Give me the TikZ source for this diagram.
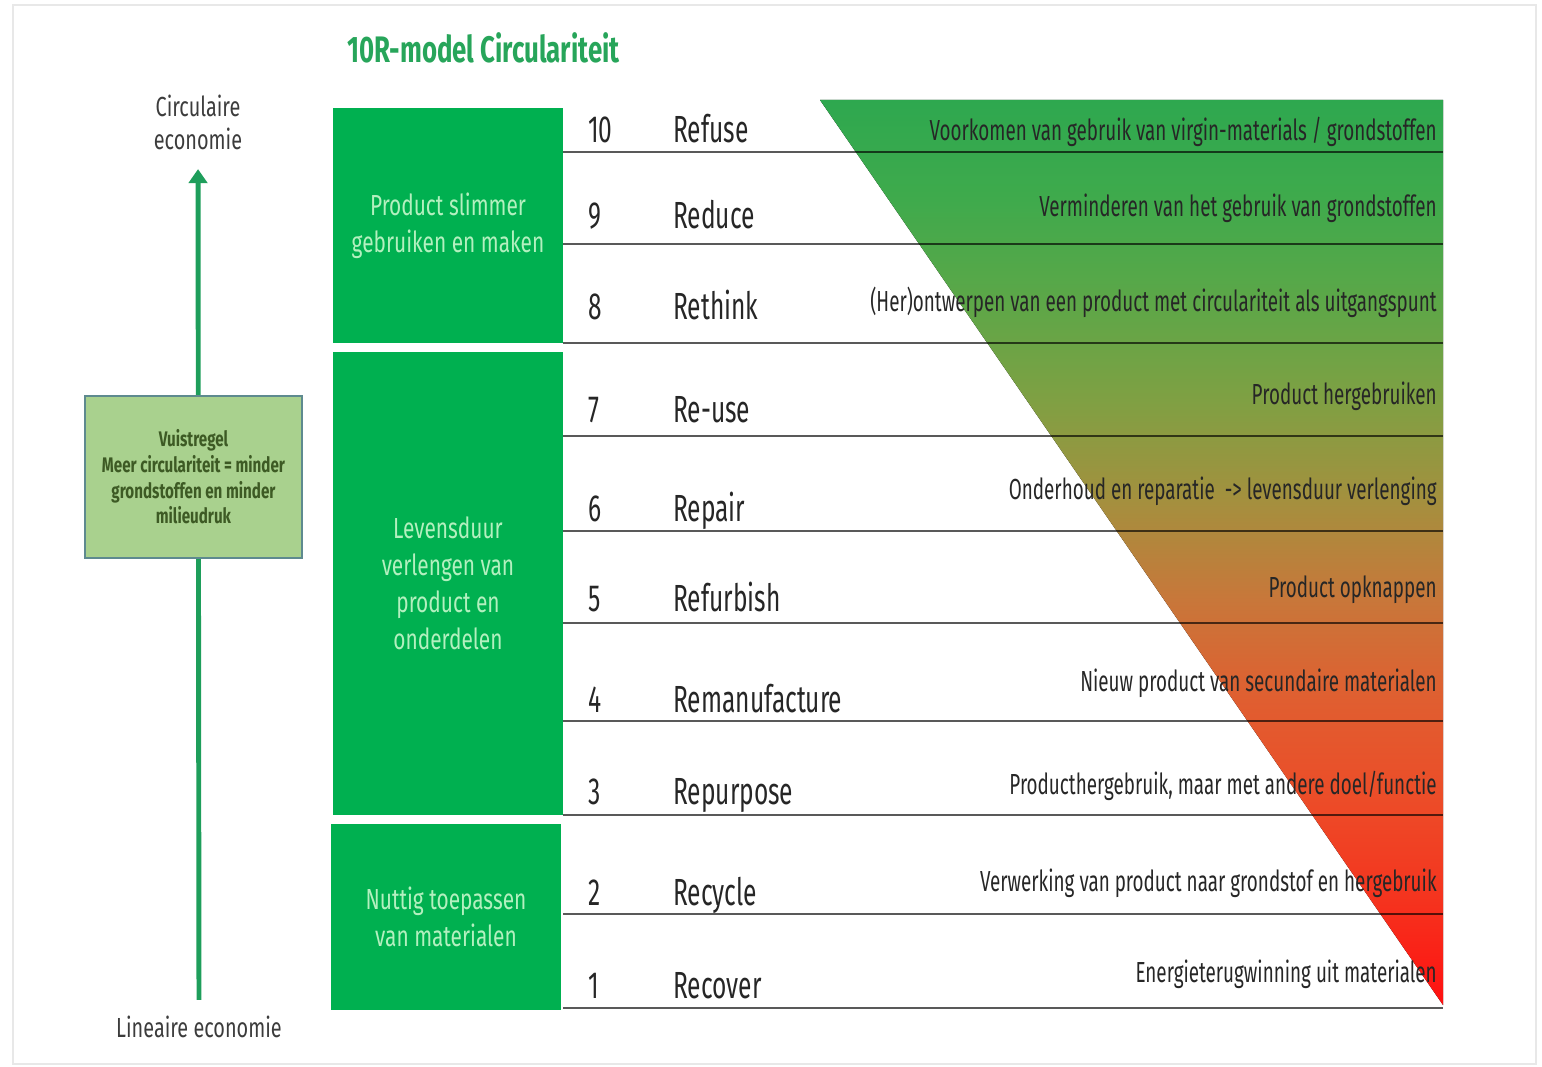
\documentclass[tikz,border=0pt]{standalone}
\usepackage{fontspec}
\setmainfont[FakeStretch=0.65]{Fira Sans}
\newfontfamily\grpfont[FakeStretch=0.72]{Fira Sans}
\newfontfamily\ttlfont[FakeStretch=0.70]{Fira Sans}
\usepackage{xcolor}
\usepackage{tikz}
\usetikzlibrary{arrows.meta}
\definecolor{grp}{HTML}{00B050}
\definecolor{grptext}{HTML}{B3F0BF}
\definecolor{ttl}{HTML}{27A55A}
\definecolor{axis}{HTML}{1E9E5B}
\definecolor{rulefill}{HTML}{A9D18E}
\definecolor{ruleedge}{HTML}{5E8A8F}
\definecolor{ruletext}{HTML}{3D5A24}
\definecolor{ink}{HTML}{262626}
\definecolor{frame}{HTML}{E8E8E8}
% triangle colours, top (t9) to bottom (t0)
\definecolor{t9}{HTML}{2EA84F}
\definecolor{t8}{HTML}{3FAA4C}
\definecolor{t7}{HTML}{5CA748}
\definecolor{t6}{HTML}{7FA043}
\definecolor{t5}{HTML}{A4903E}
\definecolor{t4}{HTML}{C8773A}
\definecolor{t3}{HTML}{E05E30}
\definecolor{t2}{HTML}{EC4C28}
\definecolor{t1}{HTML}{F5331E}
\definecolor{t0}{HTML}{FF1010}
\pgfdeclareverticalshading{tenr}{100bp}{color(0bp)=(t0); color(25bp)=(t0);
  color(30.80bp)=(t1); color(36.33bp)=(t2); color(41.85bp)=(t3);
  color(47.38bp)=(t4); color(52.90bp)=(t5); color(58.43bp)=(t6);
  color(63.95bp)=(t7); color(69.48bp)=(t8); color(75bp)=(t9); color(100bp)=(t9)}
\tikzset{
  grpbox/.style={fill=grp, inner sep=0pt, align=center, text=grptext,
    font=\grpfont\fontsize{16.5}{21}\selectfont},
  rulebox/.style={fill=rulefill, draw=ruleedge, line width=1.2pt, align=center,
    text=ruletext, minimum width=4.34cm, minimum height=3.24cm,
    font=\grpfont\bfseries\fontsize{12}{14.6}\selectfont},
  rowline/.style={draw=black, opacity=0.65, line width=1.2pt},
  uparrow/.style={draw=axis, line width=2.8pt, -{Triangle[width=10.5pt,length=8pt]}},
  num/.style={anchor=base west, inner sep=0pt, text=ink, font=\fontsize{21.5}{24}\selectfont},
  rname/.style={anchor=base west, inner sep=0pt, text=ink, font=\fontsize{21.5}{24}\selectfont},
  rdesc/.style={anchor=base east, inner sep=0pt, text=ink, font=\fontsize{16.5}{18}\selectfont},
  side/.style={align=center, inner sep=0pt, text=ink!90, font=\grpfont\fontsize{15.7}{18.8}\selectfont},
}

\begin{document}
\begin{tikzpicture}[x=0.02cm, y=-0.02cm]
  \useasboundingbox (0,0) rectangle (1542,1067);
  \draw[frame, line width=0.6pt] (13,5) rectangle (1536,1064);

  \node[anchor=base west, inner sep=0pt, text=ttl,
    font=\ttlfont\bfseries\fontsize{21}{24}\selectfont] (title) at (347,63) {10R-model Circulariteit};

  % left axis
  \node[side] (circ) at (198,122) {Circulaire\\economie};
  \node[side] (lin) at (199,1027) {Lineaire economie};
  \draw[uparrow, shorten <=9pt, shorten >=11pt] (lin.north) -- (circ.south);
  \node[rulebox] (rule) at (193.5,477)
    {Vuistregel\\Meer circulariteit = minder\\grondstoffen en minder\\milieudruk};

  % groups
  \node[grpbox, minimum width=4.6cm, minimum height=4.7cm] (grp1) at (448,225.5)
    {Product slimmer\\gebruiken en maken};
  \node[grpbox, minimum width=4.6cm, minimum height=9.26cm] (grp2) at (448,583.5)
    {Levensduur\\verlengen van\\product en\\onderdelen};
  \node[grpbox, minimum width=4.6cm, minimum height=3.72cm] (grp3) at (446,917)
    {Nuttig toepassen\\van materialen};

  % triangle
  \fill[shading=tenr] (820,100) -- (1443,100) -- (1443,1005) -- cycle;
  \foreach \y in {152,244,343,436,531,623,721,815,914,1008}
    \draw[rowline] (563,\y) -- (1443,\y);

  % rows
  \foreach \n/\lab/\yb/\desc/\yd in {
    10/Refuse/143/{Voorkomen van gebruik van virgin-materials / grondstoffen}/141,
    9/Reduce/229/{Verminderen van het gebruik van grondstoffen}/217,
    8/Rethink/320/{(Her)ontwerpen van een product met circulariteit als uitgangspunt}/312,
    7/Re-use/423/{Product hergebruiken}/405,
    6/Repair/521/{Onderhoud en reparatie\ \ -> levensduur verlenging}/500,
    5/Refurbish/611/{Product opknappen}/597,
    4/Remanufacture/712/{Nieuw product van secundaire materialen}/691,
    3/Repurpose/804/{Producthergebruik, maar met andere doel/functie}/794,
    2/Recycle/905/{Verwerking van product naar grondstof en hergebruik}/891,
    1/Recover/998/{Energieterugwinning uit materialen}/982}{
    \node[num] (n\n) at (588,\yb) {\n};
    \node[rname] (r\n) at (673,\yb) {\lab};
    \node[rdesc] (d\n) at (1437,\yd) {\desc};
  }
\end{tikzpicture}
\end{document}
